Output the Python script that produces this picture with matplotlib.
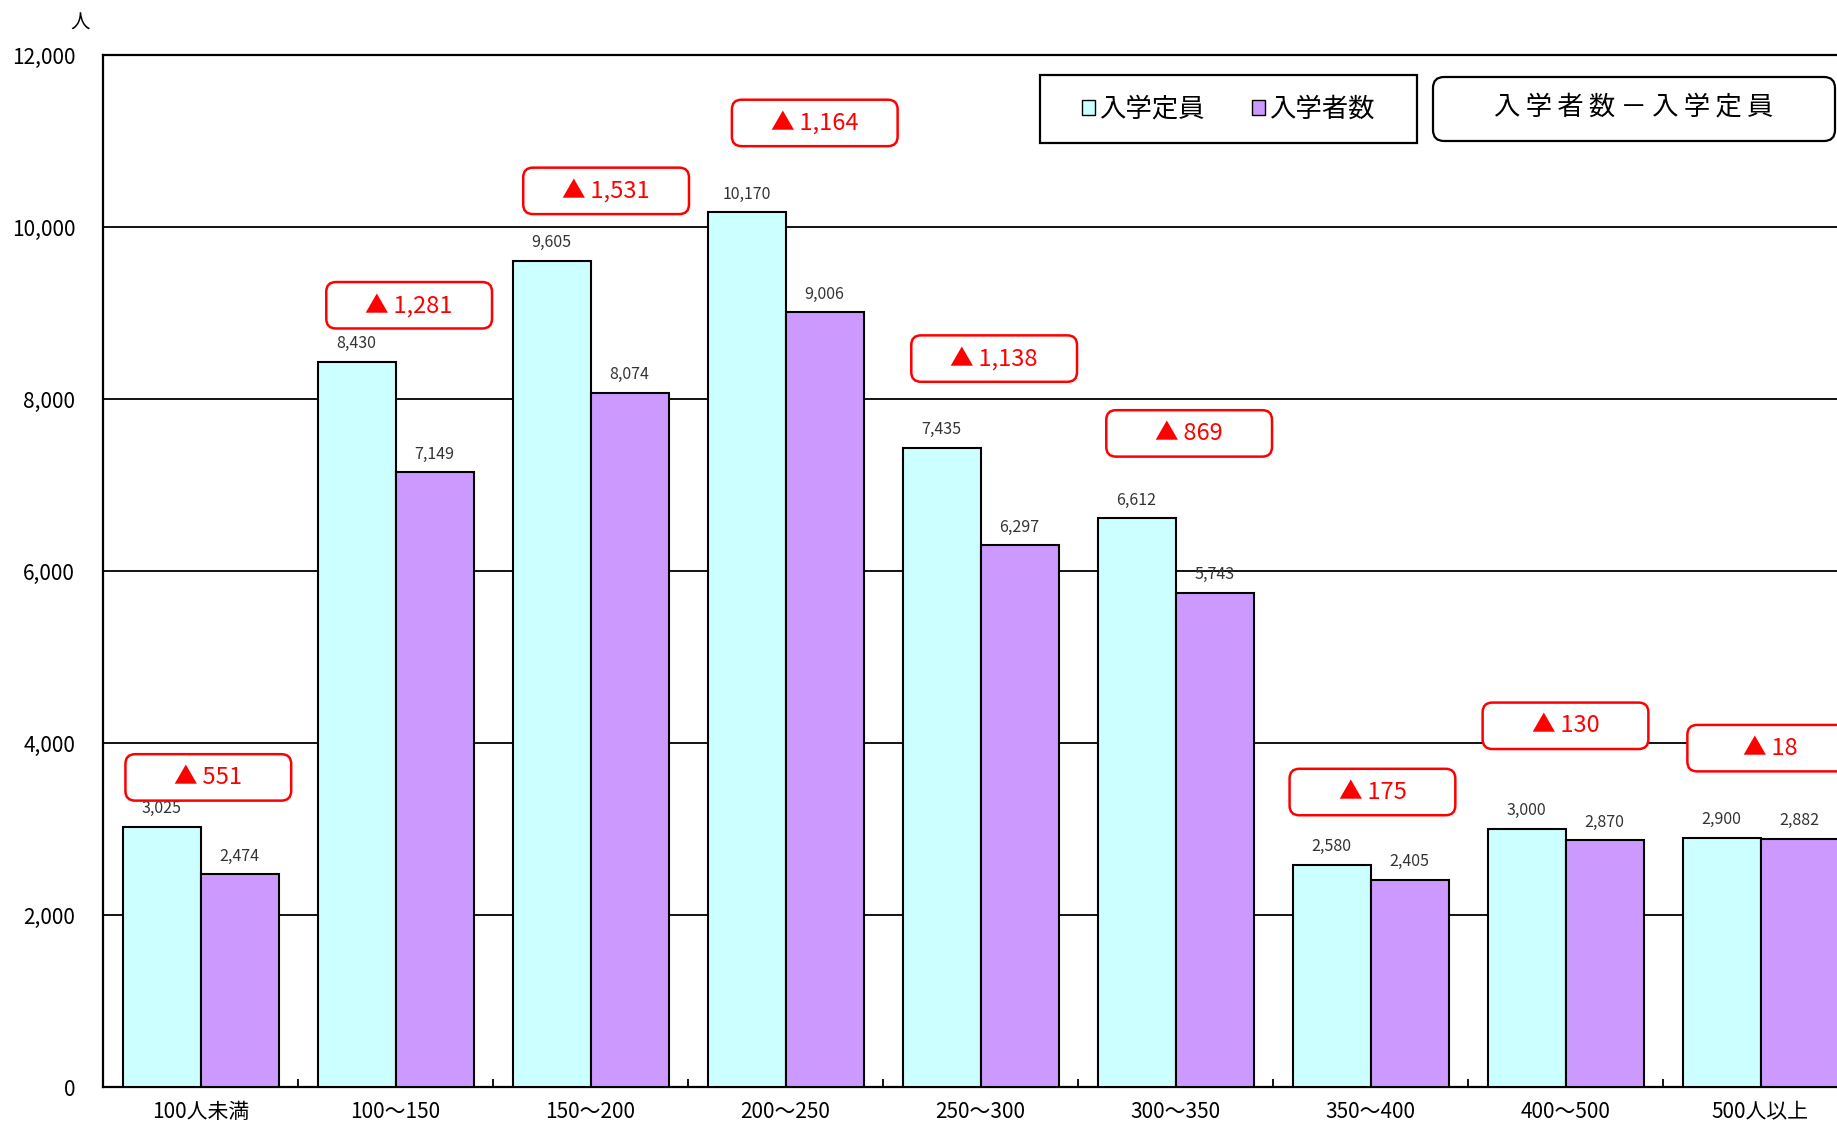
import numpy as np
import matplotlib
matplotlib.use("Agg")
import matplotlib.pyplot as plt
from matplotlib.patches import FancyBboxPatch, Rectangle, Patch

plt.rcParams['font.family'] = ['Noto Sans CJK JP', 'DejaVu Sans']

# ── data ──────────────────────────────────────────────────────────────────────
categories = ["100人未満", "100～150", "150～200", "200～250", "250～300",
              "300～350", "350～400", "400～500", "500人以上"]
capacity = [3025, 8430, 9605, 10170, 7435, 6612, 2580, 3000, 2900]   # 入学定員
enrolled = [2474, 7149, 8074, 9006, 6297, 5743, 2405, 2870, 2882]    # 入学者数

# where the red difference call-outs sit (x in group units, y in 人)
box_x = [0.54, 1.57, 2.58, 3.65, 4.57, 5.57, 6.51, 7.50, 8.55]
box_y = [3600, 9090, 10420, 11210, 8470, 7600, 3430, 4200, 3940]

CYAN = "#CCFFFF"
PURPLE = "#CC99FF"
W, H = 1837, 1125

# ── figure ────────────────────────────────────────────────────────────────────
fig = plt.figure(figsize=(W / 100, H / 100), dpi=100)
# plot area runs slightly past the right edge, as in the source picture
ax = fig.add_axes([103 / W, 38 / H, 1755 / W, 1032 / H])

x = np.arange(len(categories))
bw = 0.4
b1 = ax.bar(x + 0.3, capacity, bw, color=CYAN, edgecolor="black", linewidth=1.5, zorder=3)
b2 = ax.bar(x + 0.7, enrolled, bw, color=PURPLE, edgecolor="black", linewidth=1.5, zorder=3)

ax.bar_label(b1, fmt="{:,.0f}", padding=7, fontsize=11.5, color="#333333")
ax.bar_label(b2, fmt="{:,.0f}", padding=7, fontsize=11.5, color="#333333")

ax.set_xlim(0, len(categories))
ax.set_ylim(0, 12000)
yt = np.arange(0, 12001, 2000)
ax.set_yticks(yt)
ax.set_yticklabels([f"{v:,}" for v in yt], fontsize=15)
ax.tick_params(axis="y", length=0, pad=20)
ax.yaxis.grid(True, color="black", linewidth=1.3)
ax.set_axisbelow(True)

ax.set_xticks(x + 0.5)
ax.set_xticklabels(categories, fontsize=15)
ax.tick_params(axis="x", which="major", length=0, pad=10)
ax.set_xticks(np.arange(1, len(categories)), minor=True)
ax.tick_params(axis="x", which="minor", direction="in", length=6, width=1.3)

for s in ax.spines.values():
    s.set_color("black")
    s.set_linewidth(1.6)

# ── red difference boxes ──────────────────────────────────────────────────────
px_x = 1755 / len(categories)
px_y = 1032 / 12000
aspect = px_x / px_y
box_w, box_h = 0.85, 540
for xc, yc, c, e in zip(box_x, box_y, capacity, enrolled):
    ax.add_patch(FancyBboxPatch((xc - box_w / 2, yc - box_h / 2), box_w, box_h,
                                boxstyle="round,pad=0,rounding_size=0.05",
                                mutation_aspect=aspect, facecolor="white",
                                edgecolor="red", linewidth=1.8, zorder=5,
                                clip_on=False))
    ax.text(xc, yc, f"▲\u2009{c - e:,}", color="red", fontsize=17,
            ha="center", va="center", zorder=6)

# ── legend and heading boxes ──────────────────────────────────────────────────
fig.patches.append(Rectangle((1040 / W, 1 - 143 / H), 377 / W, 68 / H,
                             transform=fig.transFigure, facecolor="white",
                             edgecolor="black", linewidth=1.6, zorder=4))
handles = [Patch(facecolor=CYAN, edgecolor="black", linewidth=1.0),
           Patch(facecolor=PURPLE, edgecolor="black", linewidth=1.0)]
leg = fig.legend(handles, ["入学定員", "入学者数"], ncol=2, loc="center",
                 bbox_to_anchor=(1228.5 / W, 1 - 109 / H), fontsize=19,
                 frameon=False, handlelength=0.5, handleheight=0.5,
                 handletextpad=0.15, columnspacing=1.8)
leg.set_zorder(6)

fig.patches.append(FancyBboxPatch((1433 / W, 1 - 141 / H), 402 / W, 64 / H,
                                  boxstyle="round,pad=0,rounding_size=0.006",
                                  mutation_aspect=W / H, transform=fig.transFigure,
                                  facecolor="white", edgecolor="black",
                                  linewidth=1.6, zorder=4))
fig.text(1634 / W, 1 - 107 / H, "\u2009".join("入学者数－入学定員"),
         fontsize=19, ha="center", va="center", zorder=6)

fig.text(80 / W, 1 - 23 / H, "人", fontsize=14, ha="center", va="center")

fig.savefig("out.png", dpi=100)
